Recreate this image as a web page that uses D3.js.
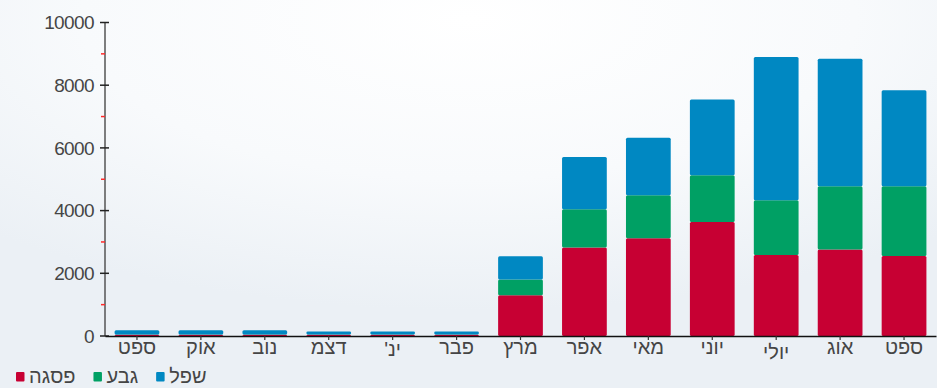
<!DOCTYPE html>
<html><head><meta charset="utf-8">
<script src="https://cdn.jsdelivr.net/npm/d3@7"></script>
<style>
html,body{margin:0;padding:0;background:#fff;}
svg{display:block;}
</style></head>
<body>
<svg id="chart" width="937" height="388"></svg>
<script>
// ---- data ----
const months = ["ספט","אוק","נוב","דצמ","ינ'","פבר","מרץ","אפר","מאי","יוני","יולי","אוג","ספט"];
const peak   = [40, 40, 40, 40, 40, 40, 1300, 2820, 3120, 3640, 2580, 2760, 2550]; // פסגה
const mid    = [10, 10, 10, 10, 10, 10, 500, 1220, 1370, 1490, 1750, 2020, 2230];  // גבע
const low    = [135, 135, 135, 95, 95, 95, 740, 1670, 1830, 2410, 4570, 4060, 3060]; // שפל
const seriesNames = ["פסגה","גבע","שפל"];
const seriesColors = ["#c70033","#00a064","#0088c2"];
const yMajorTicks = [0,2000,4000,6000,8000,10000];
const yMinorTicks = [1000,3000,5000,7000,9000];

const W = 937, H = 388;
const svg = d3.select("#chart");
const FONT = "'Liberation Sans', Arial, 'DejaVu Sans', sans-serif";
const TXT = "#454545";

// background
const defs = svg.append("defs");
const rg = defs.append("radialGradient").attr("id","bg")
  .attr("cx","0.5").attr("cy","0.05").attr("r","0.75");
rg.append("stop").attr("offset","0").attr("stop-color","#ffffff");
rg.append("stop").attr("offset","0.55").attr("stop-color","#f8fafc");
rg.append("stop").attr("offset","1").attr("stop-color","#ebf0f5");
svg.append("rect").attr("width",W).attr("height",H).attr("fill","url(#bg)");

const x = d3.scaleBand().domain(d3.range(months.length)).range([105, 936])
  .paddingInner(0.3).paddingOuter(0.15);
const y = d3.scaleLinear().domain([0,10000]).range([336, 22.5]);

const rows = months.map((m,i)=>({i, peak:peak[i], mid:mid[i], low:low[i]}));
const stack = d3.stack().keys(["peak","mid","low"])(rows);

svg.append("g").selectAll("g").data(stack).join("g")
  .attr("fill",(d,k)=>seriesColors[k])
  .selectAll("rect").data(d=>d).join("rect")
  .attr("x",d=>x(d.data.i))
  .attr("width",x.bandwidth())
  .attr("y",d=>y(d[1]))
  .attr("height",d=>Math.max(0,y(d[0])-y(d[1])))
  .attr("rx",1.5);

// y axis
const yAxis = svg.append("g").attr("transform","translate(105,0)");
yAxis.append("line").attr("x1",0).attr("x2",0).attr("y1",y(10000)).attr("y2",y(0))
  .attr("stroke","#555").attr("stroke-width",1.5);
yAxis.selectAll("line.maj").data(yMajorTicks).join("line").attr("class","maj")
  .attr("x1",-5).attr("x2",4).attr("y1",d=>y(d)).attr("y2",d=>y(d))
  .attr("stroke","#222").attr("stroke-width",1.5);
yAxis.selectAll("line.min").data(yMinorTicks).join("line").attr("class","min")
  .attr("x1",-4).attr("x2",0).attr("y1",d=>y(d)).attr("y2",d=>y(d))
  .attr("stroke","#ff2a2a").attr("stroke-width",1.5);
yAxis.selectAll("text").data(yMajorTicks).join("text")
  .attr("x",-11).attr("y",d=>y(d)).attr("dy","0.36em")
  .attr("text-anchor","end").attr("font-family",FONT).attr("font-size",19)
  .attr("fill",TXT).attr("letter-spacing","-0.6")
  .text(d=>d);

// x axis
const xAxis = svg.append("g").attr("transform",`translate(0,${y(0)})`)
  .call(d3.axisBottom(x).tickSize(4).tickSizeOuter(0).tickFormat(""));
xAxis.select(".domain").attr("stroke","#111").attr("stroke-width",1.5);
xAxis.selectAll(".tick line").attr("stroke","#333").attr("stroke-width",1.2);

// x labels: align ink tops
const ctx = document.createElement("canvas").getContext("2d");
ctx.font = `20px ${FONT}`;
const topY = 342;
svg.append("g").selectAll("text").data(months).join("text")
  .attr("x",(d,i)=>x(i)+x.bandwidth()/2)
  .attr("y",d=>topY + ctx.measureText(d).actualBoundingBoxAscent)
  .attr("text-anchor","middle").attr("font-family",FONT).attr("font-size",20)
  .attr("fill",TXT).attr("direction","rtl")
  .text(d=>d);

// legend
const legendItems = seriesNames.map((n,k)=>({n, c:seriesColors[k]}));
const lg = svg.append("g").attr("transform","translate(16,372)");
let cx = 0;
legendItems.forEach(it=>{
  const g = lg.append("g").attr("transform",`translate(${cx},0)`);
  g.append("rect").attr("width",8.5).attr("height",9.5).attr("fill",it.c).attr("rx",1);
  const t = g.append("text").attr("x",13).attr("y",10.5).attr("font-family",FONT)
    .attr("font-size",20).attr("fill",TXT).text(it.n);
  const w = t.node().getComputedTextLength();
  cx += 13 + w + 18;
});
</script>
</body></html>
